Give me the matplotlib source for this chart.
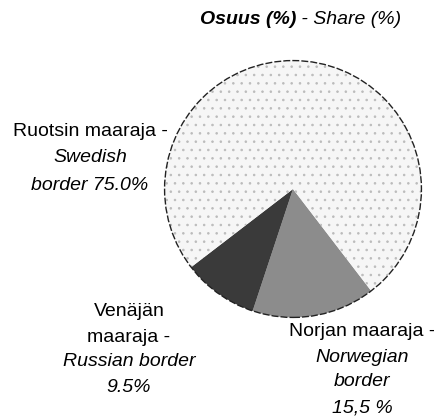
import matplotlib.pyplot as plt
from matplotlib.patches import Circle

# data
shares = [15.5, 9.5, 75.0]
names = ['Norwegian', 'Russian', 'Swedish']
colors = ['#8c8c8c', '#3a3a3a', '#f6f6f6']
hatches = ['', '', '..']

W, H = 435, 420

plt.rcParams['font.family'] = ['Liberation Sans', 'DejaVu Sans']
plt.rcParams['hatch.color'] = '#bbbbbb'
plt.rcParams['hatch.linewidth'] = 0.6

fig = plt.figure(figsize=(W / 100, H / 100), dpi=100)

# pie centre ~ (293, 189) px, radius ~130 px
cx, cy, r = 293, 189, 131
ax = fig.add_axes([(cx - r) / W, 1 - (cy + r) / H, 2 * r / W, 2 * r / H])
wedges, _ = ax.pie(shares, colors=colors, startangle=-52.5, counterclock=False,
                   radius=1, wedgeprops=dict(linewidth=0))
for w, h in zip(wedges, hatches):
    w.set_hatch(h)
ax.add_patch(Circle((0, 0), 1, fill=False, ec='#222222', lw=1.0,
                    ls=(0, (5, 1.5))))
ax.set_xlim(-1.02, 1.02)
ax.set_ylim(-1.02, 1.02)
ax.set_aspect('equal')
ax.axis('off')

FS = 14


def line(px, py, s, style='normal', weight='normal'):
    fig.text(px / W, 1 - py / H, s, ha='center', va='center', fontsize=FS,
             style=style, weight=weight, color='black')


# title: bold italic + italic
t1 = fig.text(200 / W, 1 - 20 / H, 'Osuus (%)', ha='left', va='center',
              fontsize=FS, style='italic', weight='bold', color='black')
fig.canvas.draw()
x1 = t1.get_window_extent().x1
fig.text(x1 / W, 1 - 20 / H, ' - Share (%)', ha='left', va='center',
         fontsize=FS, style='italic', color='black')

# Swedish
line(90, 131, 'Ruotsin maaraja -')
line(90, 158, 'Swedish', 'italic')
line(90, 185, 'border 75.0%', 'italic')

# Russian
line(129, 312, 'Venäjän')
line(129, 337, 'maaraja -')
line(129, 362, 'Russian border', 'italic')
line(129, 387, '9.5%', 'italic')

# Norwegian
line(362, 331, 'Norjan maaraja -')
line(362, 357, 'Norwegian', 'italic')
line(362, 382, 'border', 'italic')
line(362, 408, '15,5 %', 'italic')

fig.savefig('out.png', dpi=100)
